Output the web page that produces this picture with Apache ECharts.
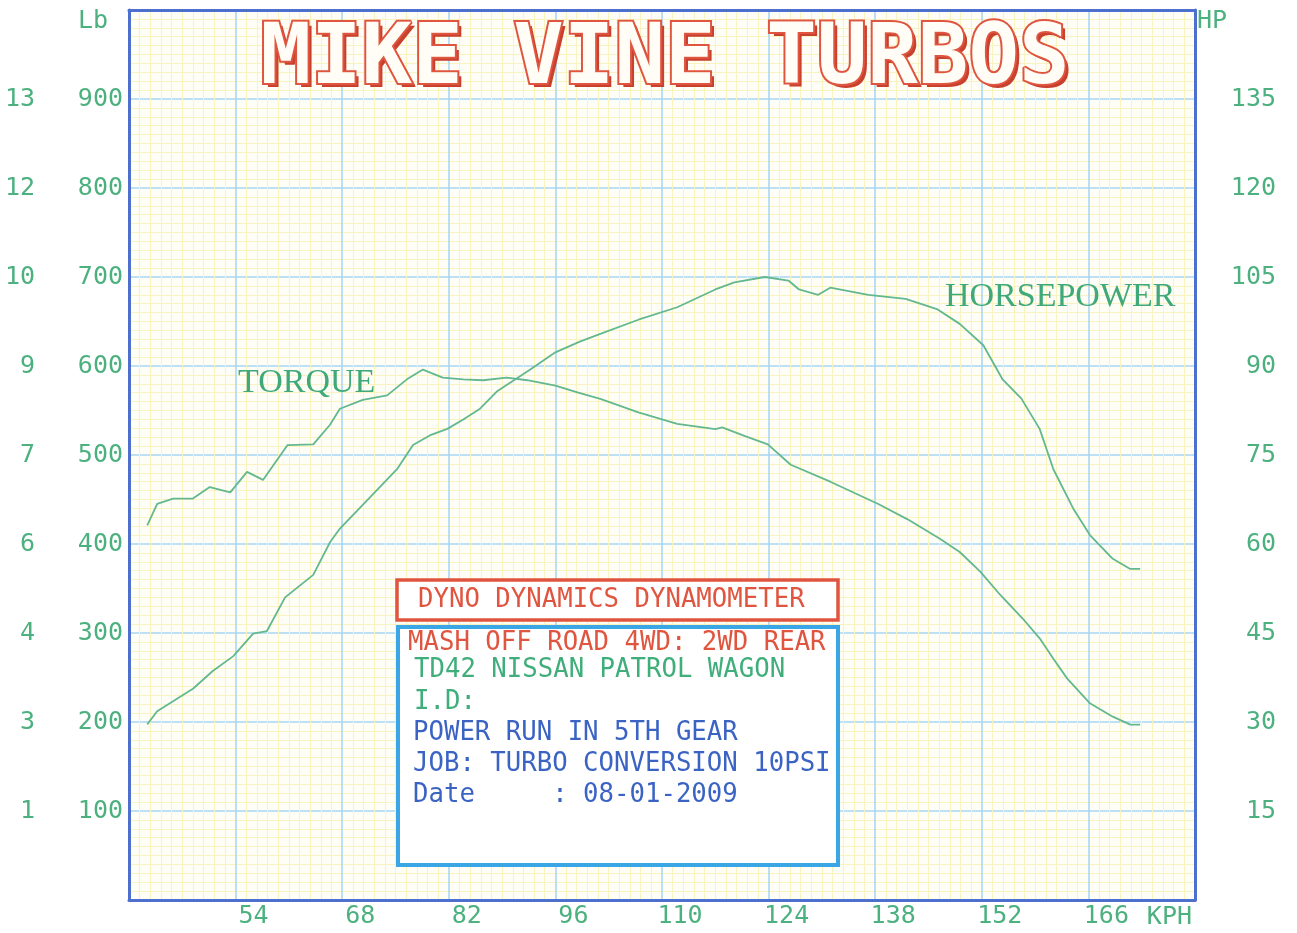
<!DOCTYPE html>
<html>
<head>
<meta charset="utf-8">
<script src="https://cdn.jsdelivr.net/npm/echarts@6/dist/echarts.min.js"></script>
<style>
html,body{margin:0;padding:0;background:#fff;}
#chart{width:1297px;height:933px;}
</style>
</head>
<body>
<div id="chart"></div>
<script>
// ---- data ----
const torqueKph = [42.4,43.7,45.8,48.4,50.6,53.3,55.5,57.6,60.8,64.2,66.4,67.7,70.7,73.9,76.5,78.6,81.2,83.9,86.5,89.6,92.3,96.0,99.0,101.9,106.9,112.0,117.0,117.9,121.0,123.9,126.9,132.1,138.4,142.2,146.5,149.1,151.8,154.4,157.4,159.6,161.4,163.2,166.2,169.2,171.5,172.8];
const torqueLb  = [421,445,451,451,464,458,481,472,511,512,534,552,562,567,585,596,587,585,584,587,584,578,570,563,548,535,529,531,521,512,489,470,445,428,406,391,369,343,316,294,271,249,221,206,197,197];

const hpKph = [42.4,43.7,46.3,48.4,51.0,53.7,56.3,58.1,60.5,64.2,66.4,67.7,70.7,75.2,77.3,79.5,81.8,83.9,86.1,88.3,92.7,96.0,99.2,101.9,106.9,112.0,117.0,119.5,123.5,126.6,128.0,130.5,132.1,137.1,142.0,146.1,149.1,152.2,154.7,157.2,159.6,161.4,164.0,166.2,169.2,171.5,172.8];
const hpValues = [29.6,31.8,33.9,35.6,38.6,41.1,44.9,45.3,51.0,54.8,60.3,62.6,66.6,72.6,76.7,78.3,79.4,81.0,82.8,85.7,89.4,92.3,94.1,95.4,97.8,99.9,102.9,104.1,105.0,104.4,102.9,102.0,103.2,102.0,101.3,99.6,97.1,93.5,87.8,84.5,79.4,72.6,66.0,61.5,57.5,55.8,55.8];

const kphTickLabels = ['54','68','82','96','110','124','138','152','166'];
const lbTickLabels = ['100','200','300','400','500','600','700','800','900'];
const hpTickLabels = ['15','30','45','60','75','90','105','120','135'];

const infoLines = [
  {text:'MASH OFF ROAD 4WD: 2WD REAR', color:'#e0553f'},
  {text:'TD42 NISSAN PATROL WAGON', color:'#3fae7a'},
  {text:'I.D:', color:'#3fae7a'},
  {text:'POWER RUN IN 5TH GEAR', color:'#3b63c4'},
  {text:'JOB: TURBO CONVERSION 10PSI', color:'#3b63c4'},
  {text:'Date     : 08-01-2009', color:'#3b63c4'}
];

const labelGreen = '#4cb07f';
const mono = '"DejaVu Sans Mono", monospace';
const lineColor = '#63b88f';
const frameColor = '#4d6fcd';
const frameLine = {show:true, onZero:false, lineStyle:{color:frameColor, width:3}};

const chart = echarts.init(document.getElementById('chart'), null, {renderer:'canvas'});

function pick(list){ return v => list.indexOf(String(Math.round(v))) >= 0 ? String(Math.round(v)) : ''; }

const infoGraphics = infoLines.map((l, i) => ({
  type:'text', x:[408,414,414,413,413,413][i], y:[643,670,702,733,764,795][i], z:110,
  style:{text:l.text, fill:l.color, font:'25.7px ' + mono, textVerticalAlign:'middle', textAlign:'left'}
}));

const option = {
  backgroundColor:'#ffffff',
  animation:false,
  grid:{left:129, right:102, top:10, bottom:33, show:true, backgroundColor:'#fffef6', borderWidth:0, z:0},
  xAxis:[
    {
      type:'value', min:40, max:180, interval:14, position:'bottom',
      axisLine:frameLine, axisTick:{show:false},
      axisLabel:{color:labelGreen, fontFamily:mono, fontSize:25, margin:4, align:'center', padding:[0,0,0,36], formatter:pick(kphTickLabels), showMinLabel:false, showMaxLabel:false},
      splitLine:{show:true, lineStyle:{color:'#a9d6f3', width:1.6}},
      minorTick:{show:false, splitNumber:10},
      minorSplitLine:{show:true, lineStyle:{color:'#f8f3c0', width:1}}
    },
    {
      type:'value', min:40, max:180, interval:14, position:'top',
      axisLine:frameLine, axisTick:{show:false}, axisLabel:{show:false}, splitLine:{show:false}
    }
  ],
  yAxis:[
    {
      type:'value', min:0, max:1000, interval:100, position:'left',
      axisLine:frameLine, axisTick:{show:false},
      axisLabel:{color:labelGreen, fontFamily:mono, fontSize:25, margin:6, formatter:pick(lbTickLabels), showMinLabel:false, showMaxLabel:false},
      splitLine:{show:true, lineStyle:{color:'#a9d6f3', width:1.6}},
      minorTick:{show:false, splitNumber:10},
      minorSplitLine:{show:true, lineStyle:{color:'#f8f3c0', width:1}}
    },
    {
      type:'value', min:0, max:150, interval:15, position:'right',
      axisLine:frameLine, axisTick:{show:false}, splitLine:{show:false},
      axisLabel:{color:labelGreen, fontFamily:mono, fontSize:25, margin:81, align:'right', formatter:pick(hpTickLabels), showMinLabel:false, showMaxLabel:false}
    },
    {
      type:'value', min:0, max:150, interval:15, position:'left',
      axisLine:{show:false}, axisTick:{show:false}, splitLine:{show:false},
      axisLabel:{color:labelGreen, fontFamily:mono, fontSize:25, margin:94, align:'right',
        formatter: v => { const s = pick(hpTickLabels)(v); return s ? s.slice(0, -1) : ''; },
        showMinLabel:false, showMaxLabel:false}
    }
  ],
  series:[
    {name:'TORQUE', type:'line', xAxisIndex:0, yAxisIndex:0, showSymbol:false, symbol:'none', z:5,
     lineStyle:{color:lineColor, width:1.8}, data: torqueKph.map((k,i)=>[k, torqueLb[i]])},
    {name:'HORSEPOWER', type:'line', xAxisIndex:0, yAxisIndex:1, showSymbol:false, symbol:'none', z:5,
     lineStyle:{color:lineColor, width:1.8}, data: hpKph.map((k,i)=>[k, hpValues[i]])}
  ],
  graphic:[
    // title shadow + title
    {type:'text', x:669, y:65, z:100, style:{text:'MIKE VINE TURBOS', fill:'#c8402e', font:'bold 84px ' + mono, textAlign:'center', textVerticalAlign:'middle'}},
    {type:'text', x:665, y:61, z:101, style:{text:'MIKE VINE TURBOS', fill:'#fffdf5', stroke:'#e0553f', lineWidth:4, font:'bold 84px ' + mono, textAlign:'center', textVerticalAlign:'middle'}},
    // curve labels
    {type:'text', x:238, y:383, z:100, style:{text:'TORQUE', fill:'#3fa97a', font:'34px "Liberation Serif", serif', textAlign:'left', textVerticalAlign:'middle'}},
    {type:'text', x:945, y:297, z:100, style:{text:'HORSEPOWER', fill:'#3fa97a', font:'34px "Liberation Serif", serif', textAlign:'left', textVerticalAlign:'middle'}},
    // axis names
    {type:'text', x:78, y:21, z:100, style:{text:'Lb', fill:labelGreen, font:'25px ' + mono, textAlign:'left', textVerticalAlign:'middle'}},
    {type:'text', x:1197, y:21, z:100, style:{text:'HP', fill:labelGreen, font:'25px ' + mono, textAlign:'left', textVerticalAlign:'middle'}},
    {type:'text', x:1192, y:917, z:100, style:{text:'KPH', fill:labelGreen, font:'25px ' + mono, textAlign:'right', textVerticalAlign:'middle'}},
    // info boxes
    {type:'rect', z:100, shape:{x:397, y:580, width:441, height:40}, style:{fill:'#ffffff', stroke:'#e0553f', lineWidth:3.5}},
    {type:'text', x:418, y:600, z:110, style:{text:'DYNO DYNAMICS DYNAMOMETER', fill:'#e0553f', font:'25.7px ' + mono, textAlign:'left', textVerticalAlign:'middle'}},
    {type:'rect', z:100, shape:{x:398, y:627, width:440, height:238}, style:{fill:'#ffffff', stroke:'#3aa6e6', lineWidth:4}}
  ].concat(infoGraphics)
};
chart.setOption(option);
</script>
</body>
</html>
